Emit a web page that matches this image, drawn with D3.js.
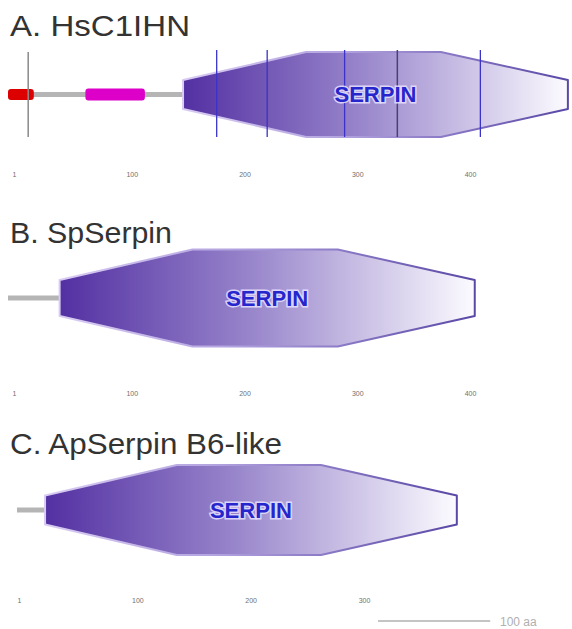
<!DOCTYPE html>
<html>
<head>
<meta charset="utf-8">
<script src="https://cdn.jsdelivr.net/npm/d3@7"></script>
<style>
  body { margin: 0; background: #fff; }
  svg { display: block; }
</style>
</head>
<body>
<svg width="572" height="629"></svg>
<script>
// panel data (positions in amino acids)
const titles = ["A. HsC1IHN", "B. SpSerpin", "C. ApSerpin B6-like"];
const proteinLength = [500, 417, 393];
const serpinDomain = [[157, 500], [47, 417], [26, 393]];
const signalPeptide = [1, 24];          // panel A only
const lowComplexity = [70, 123];        // panel A only
const grayMarks = [19];
const blueMarks = [187, 232, 301, 422];
const darkMarks = [348];
const rulerTicks = [[1, 100, 200, 300, 400], [1, 100, 200, 300, 400], [1, 100, 200, 300]];
const scaleBarAA = 100;

const svg = d3.select('svg');
const defs = svg.append('defs');

// fill + outline gradients for the serpin hexagon
const fillGrad = defs.append('linearGradient').attr('id', 'serpinFill');
fillGrad.append('stop').attr('offset', '0%').attr('stop-color', '#5330a2');
fillGrad.append('stop').attr('offset', '45%').attr('stop-color', '#9683ca');
fillGrad.append('stop').attr('offset', '100%').attr('stop-color', '#fcfbff');
const edgeGrad = defs.append('linearGradient').attr('id', 'serpinEdge');
edgeGrad.append('stop').attr('offset', '0%').attr('stop-color', '#d8ccf2');
edgeGrad.append('stop').attr('offset', '40%').attr('stop-color', '#b4a4e0');
edgeGrad.append('stop').attr('offset', '100%').attr('stop-color', '#5a48a6');

// layout per panel
const layout = [
  { titleY: 36,  titleW: 180, cy: 94.5, H: 42.5, h: 14.5, start: 8,  axisRange: [19, 470], axisY: 178 },
  { titleY: 243, titleW: 162, cy: 298,  H: 48.5, h: 18,   start: 8,  axisRange: [19, 470], axisY: 397 },
  { titleY: 454, titleW: 272, cy: 510,  H: 45,   h: 14.5, start: 17, axisRange: [24, 364], axisY: 604 }
];
const pxPerAA = 1.122;

function hexagon(x0, x1, cy, H, h) {
  const w = x1 - x0;
  const s1 = x0 + 0.32 * w, s2 = x1 - 0.33 * w;
  return [[x0, cy - h], [s1, cy - H], [s2, cy - H], [x1, cy - h],
          [x1, cy + h], [s2, cy + H], [s1, cy + H], [x0, cy + h]];
}

layout.forEach(function(L, i) {
  const x = d3.scaleLinear().domain([1, 500]).range([L.start, L.start + 499 * pxPerAA]);
  const g = svg.append('g');

  g.append('text')
    .attr('x', 10).attr('y', L.titleY)
    .attr('font-family', 'Liberation Sans, Arial, sans-serif')
    .attr('font-size', 30)
    .attr('textLength', L.titleW).attr('lengthAdjust', 'spacingAndGlyphs')
    .attr('fill', '#333')
    .text(titles[i]);

  // backbone line up to the domain
  g.append('line')
    .attr('x1', x(1)).attr('x2', x(serpinDomain[i][0]))
    .attr('y1', L.cy).attr('y2', L.cy)
    .attr('stroke', '#b5b5b5').attr('stroke-width', 5);

  if (i === 0) {
    g.append('rect')
      .attr('x', x(signalPeptide[0])).attr('width', x(signalPeptide[1]) - x(signalPeptide[0]))
      .attr('y', L.cy - 5.5).attr('height', 11).attr('rx', 3)
      .attr('fill', '#dd0000');
    g.append('rect')
      .attr('x', x(lowComplexity[0])).attr('width', x(lowComplexity[1]) - x(lowComplexity[0]))
      .attr('y', L.cy - 6).attr('height', 12).attr('rx', 3)
      .attr('fill', '#dc00c8');
  }

  const d = serpinDomain[i];
  g.append('polygon')
    .attr('points', hexagon(x(d[0]), x(d[1]), L.cy, L.H, L.h).map(p => p.join(',')).join(' '))
    .attr('fill', 'url(#serpinFill)')
    .attr('stroke', 'url(#serpinEdge)')
    .attr('stroke-width', 2)
    .attr('stroke-linejoin', 'round');

  if (i === 0) {
    const top = L.cy - 44.5, bot = L.cy + 42.5;
    g.selectAll('line.gray').data(grayMarks).enter().append('line')
      .attr('x1', p => x(p)).attr('x2', p => x(p))
      .attr('y1', top + 2).attr('y2', bot)
      .attr('stroke', '#8a8a8a').attr('stroke-width', 1.5);
    g.selectAll('line.blue').data(blueMarks).enter().append('line')
      .attr('x1', p => x(p)).attr('x2', p => x(p))
      .attr('y1', top).attr('y2', bot)
      .attr('stroke', '#3b32c8').attr('stroke-width', 1.3);
    g.selectAll('line.dark').data(darkMarks).enter().append('line')
      .attr('x1', p => x(p)).attr('x2', p => x(p))
      .attr('y1', top).attr('y2', bot)
      .attr('stroke', '#4a3f78').attr('stroke-width', 1.5);
  }

  g.append('text')
    .attr('x', (x(d[0]) + x(d[1])) / 2).attr('y', L.cy)
    .attr('dy', '0.36em')
    .attr('text-anchor', 'middle')
    .attr('font-family', 'Liberation Sans, Arial, sans-serif')
    .attr('font-weight', 'bold')
    .attr('font-size', 22)
    .attr('textLength', 82).attr('lengthAdjust', 'spacingAndGlyphs')
    .attr('fill', '#2626cc')
    .attr('stroke', 'rgba(232,226,255,0.85)').attr('stroke-width', 3)
    .attr('paint-order', 'stroke')
    .text('SERPIN');

  // ruler labels
  const last = rulerTicks[i][rulerTicks[i].length - 1];
  const axisScale = d3.scaleLinear().domain([0, last]).range(L.axisRange);
  const ax = g.append('g')
    .attr('transform', 'translate(0,' + (L.axisY - 6) + ')')
    .call(d3.axisBottom(axisScale).tickValues(rulerTicks[i]).tickSize(0).tickPadding(0).tickFormat(d3.format('d')));
  ax.select('.domain').remove();
  ax.selectAll('text')
    .attr('font-family', 'Liberation Sans, Arial, sans-serif')
    .attr('font-size', 7)
    .attr('fill', '#6f6f6f')
    .attr('dx', (t, j) => j === 0 ? '-0.9em' : 0);

  if (i === 2) {
    const bx = 378;
    svg.append('line')
      .attr('x1', bx).attr('x2', bx + x(1 + scaleBarAA) - x(1))
      .attr('y1', 621).attr('y2', 621)
      .attr('stroke', '#b0b0b0').attr('stroke-width', 1.5);
    svg.append('text')
      .attr('x', 500).attr('y', 626)
      .attr('font-family', 'Liberation Sans, Arial, sans-serif')
      .attr('font-size', 12)
      .attr('fill', '#b0b0b0')
      .text(scaleBarAA + ' aa');
  }
});
</script>
</body>
</html>
